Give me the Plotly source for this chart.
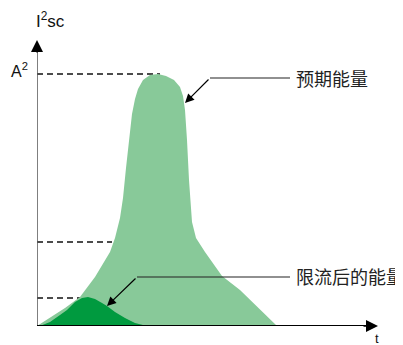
import plotly.graph_objects as go

# Prospective energy curve (t, I^2 t) in arbitrary units
t_prosp = [0, 13, 28, 43, 58, 73, 78, 83, 86, 89, 92, 95, 98, 101, 106, 113, 121,
           129, 137, 143, 146, 148, 150, 152, 155, 159, 168, 185, 203, 223, 240]
e_prosp = [0, 8, 18, 29, 49, 74, 88, 108, 128, 158, 188, 212, 227, 237, 246, 251, 252,
           250, 246, 239, 230, 216, 186, 146, 104, 88, 74, 50, 36, 16, 0]

# Limited energy curve
t_lim = [3, 13, 23, 30, 38, 45, 51, 58, 65, 70, 78, 88, 98, 110]
e_lim = [0, 4, 11, 16, 24, 28, 29, 27, 23, 20, 14, 8, 3, 0]

# Reference levels (dashed lines): value and end time
levels = [252, 84, 28]
level_ends = [123, 75, 50]

label_prosp = "预期能量"
label_lim = "限流后的能量"
y_label = "I<sup>2</sup>sc"
y_unit = "A<sup>2</sup>"
x_label = "t"

X_MAX, Y_MAX = 343, 296

LIGHT = "#88C999"
DARK = "#009A3F"
CJK = "Noto Sans CJK SC, Liberation Sans, sans-serif"
LAT = "Liberation Sans, Arial, sans-serif"

fig = go.Figure()
fig.add_trace(go.Scatter(x=t_prosp, y=e_prosp, fill="toself", fillcolor=LIGHT,
                         line=dict(width=0, color=LIGHT), mode="lines", hoverinfo="skip"))
fig.add_trace(go.Scatter(x=t_lim, y=e_lim, fill="toself", fillcolor=DARK,
                         line=dict(width=0, color=DARK), mode="lines", hoverinfo="skip"))

for lv, end in zip(levels, level_ends):
    fig.add_shape(type="line", x0=0, x1=end, y0=lv, y1=lv,
                  line=dict(color="#111", width=1.6, dash="6px,4px"), layer="below")

# axes
fig.add_shape(type="line", x0=0, x1=0, y0=0, y1=275, line=dict(color="#555", width=1.5))
fig.add_shape(type="line", x0=0, x1=330, y0=0, y1=0, line=dict(color="#000", width=2))

annos = []
annos.append(dict(x=0, y=286, ax=0, ay=272, xref="x", yref="y", axref="x", ayref="y",
                  showarrow=True, arrowhead=2, arrowsize=1.6, arrowwidth=1.5,
                  arrowcolor="#000", text=""))
annos.append(dict(x=341, y=0, ax=325, ay=0, xref="x", yref="y", axref="x", ayref="y",
                  showarrow=True, arrowhead=2, arrowsize=1.6, arrowwidth=1.5,
                  arrowcolor="#000", text=""))

# leader lines
fig.add_shape(type="line", x0=173, x1=253, y0=248, y1=248, line=dict(color="#222", width=1.2))
fig.add_shape(type="line", x0=100, x1=253, y0=49, y1=49, line=dict(color="#222", width=1.2))
annos.append(dict(x=148, y=223, ax=173, ay=248, xref="x", yref="y", axref="x", ayref="y",
                  showarrow=True, arrowhead=2, arrowsize=1.5, arrowwidth=1.2,
                  arrowcolor="#000", text=""))
annos.append(dict(x=70, y=20, ax=100, ay=49, xref="x", yref="y", axref="x", ayref="y",
                  showarrow=True, arrowhead=2, arrowsize=1.5, arrowwidth=1.2,
                  arrowcolor="#000", text=""))

annos.append(dict(x=257, y=248, xref="x", yref="y", text=label_prosp, showarrow=False,
                  xanchor="left", yanchor="middle", font=dict(family=CJK, size=18, color="#222")))
annos.append(dict(x=257, y=50, xref="x", yref="y", text=label_lim, showarrow=False,
                  xanchor="left", yanchor="middle", font=dict(family=CJK, size=18, color="#222")))
annos.append(dict(x=-3 / X_MAX, y=306 / Y_MAX, xref="paper", yref="paper", text=y_label, showarrow=False,
                  xanchor="left", yanchor="middle", font=dict(family=LAT, size=17, color="#111")))
annos.append(dict(x=-28 / X_MAX, y=256 / Y_MAX, xref="paper", yref="paper", text=y_unit, showarrow=False,
                  xanchor="left", yanchor="middle", font=dict(family=LAT, size=16, color="#111")))
annos.append(dict(x=340 / X_MAX, y=-12 / Y_MAX, xref="paper", yref="paper", text=x_label, showarrow=False,
                  xanchor="center", yanchor="middle", font=dict(family=LAT, size=13, color="#111")))

fig.update_layout(
    width=395, height=337,
    margin=dict(l=29, r=23, t=22, b=19),
    paper_bgcolor="white", plot_bgcolor="white",
    showlegend=False,
    xaxis=dict(range=[0, X_MAX], visible=False, fixedrange=True),
    yaxis=dict(range=[0, Y_MAX], visible=False, fixedrange=True),
    annotations=annos,
)
fig.write_html("out.html")
